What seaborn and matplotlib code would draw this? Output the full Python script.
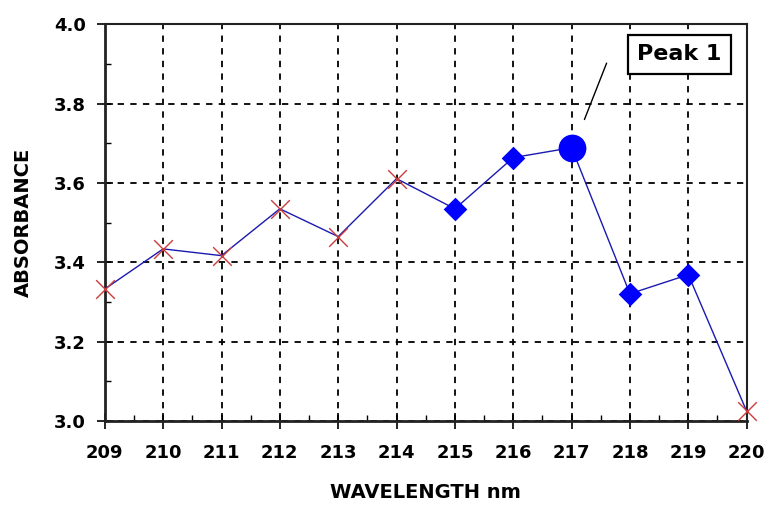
import matplotlib
matplotlib.use("Agg")
import matplotlib.pyplot as plt
from matplotlib.ticker import MultipleLocator
import seaborn as sns
import pandas as pd

wavelength = [209, 210, 211, 212, 213, 214, 215, 216, 217, 218, 219, 220]
absorbance = [3.333, 3.434, 3.417, 3.535, 3.465, 3.611, 3.535, 3.664, 3.689, 3.321, 3.369, 3.025]
point_kind = ["cross", "cross", "cross", "cross", "cross", "cross",
              "diamond", "diamond", "peak", "diamond", "diamond", "cross"]
annotation_text = "Peak 1"
x_label = "WAVELENGTH nm"
y_label = "ABSORBANCE"

df = pd.DataFrame({"wavelength": wavelength, "absorbance": absorbance, "kind": point_kind})

sns.set_style("white")
plt.rcParams["font.family"] = ["DejaVu Sans"]
plt.rcParams["text.color"] = "black"
plt.rcParams["xtick.color"] = "black"
plt.rcParams["ytick.color"] = "black"
plt.rcParams["axes.labelcolor"] = "black"
plt.rcParams["xtick.bottom"] = True
plt.rcParams["ytick.left"] = True
plt.rcParams["xtick.minor.visible"] = True
plt.rcParams["ytick.minor.visible"] = True

fig = plt.figure(figsize=(7.65, 5.05), dpi=100)
ax = fig.add_axes([0.137, 0.166, 0.839, 0.786])

sns.lineplot(data=df, x="wavelength", y="absorbance", color="#1a1ab0", lw=1.0, ax=ax, zorder=3)

cross = df[df.kind == "cross"]
dia = df[df.kind == "diamond"]
peak = df[df.kind == "peak"]
sns.scatterplot(data=cross, x="wavelength", y="absorbance", marker="x", s=180,
                color="#c83c3c", linewidth=1.0, ax=ax, zorder=4, clip_on=False)
sns.scatterplot(data=dia, x="wavelength", y="absorbance", marker="D", s=145,
                color="#0000ff", edgecolor="#0000ff", linewidth=0, ax=ax, zorder=5, clip_on=False)
sns.scatterplot(data=peak, x="wavelength", y="absorbance", marker="o", s=400,
                color="#0000ff", edgecolor="#0000ff", linewidth=0, ax=ax, zorder=5, clip_on=False)

ax.set_xlim(209, 220)
ax.set_ylim(3.0, 4.0)
ax.xaxis.set_major_locator(MultipleLocator(1))
ax.xaxis.set_minor_locator(MultipleLocator(0.5))
ax.yaxis.set_major_locator(MultipleLocator(0.2))
ax.yaxis.set_minor_locator(MultipleLocator(0.1))
ax.yaxis.set_major_formatter(matplotlib.ticker.FormatStrFormatter("%.1f"))
ax.grid(True, which="major", color="black", linestyle=(0, (3.5, 3.5)), linewidth=1.3)
ax.grid(False, which="minor")

ax.tick_params(axis="both", which="major", direction="inout", length=11, width=1.2,
               color="black", labelsize=13, bottom=True, left=True)
ax.tick_params(axis="x", which="major", pad=11)
ax.tick_params(axis="y", which="major", pad=8)
ax.tick_params(axis="both", which="minor", direction="in", length=4, width=1.0,
               color="black", bottom=True, left=True)
for lab in ax.get_xticklabels() + ax.get_yticklabels():
    lab.set_fontweight("bold")

for side in ["left", "bottom"]:
    ax.spines[side].set_linewidth(2.0)
    ax.spines[side].set_color("#222222")
for side in ["top", "right"]:
    ax.spines[side].set_linewidth(1.5)
    ax.spines[side].set_color("#222222")

ax.set_xlabel(x_label, fontsize=14, fontweight="bold", labelpad=15)
ax.set_ylabel(y_label, fontsize=14, fontweight="bold", labelpad=15)

# leader line and label box
ax.annotate("", xy=(217.22, 3.760), xytext=(217.60, 3.902),
            arrowprops=dict(arrowstyle="-", color="black", lw=1.0, shrinkA=0, shrinkB=0),
            zorder=6)
ax.text(218.85, 3.924, annotation_text, fontsize=16, fontweight="bold",
        ha="center", va="center", zorder=7,
        bbox=dict(boxstyle="square,pad=0.42", fc="white", ec="black", lw=1.6))

fig.savefig("out.png", dpi=100)
